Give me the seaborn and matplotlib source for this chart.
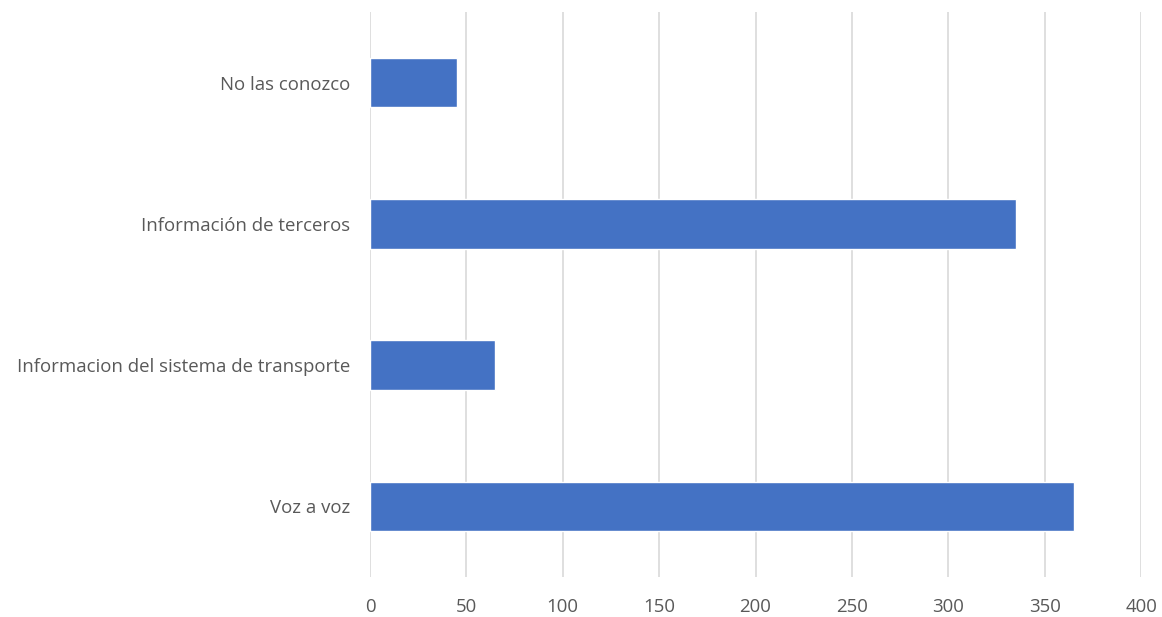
import matplotlib
matplotlib.use("Agg")
import matplotlib.pyplot as plt
import seaborn as sns
import pandas as pd

categories = [
    "No las conozco",
    "Información de terceros",
    "Informacion del sistema de transporte",
    "Voz a voz",
]
values = [45, 335, 65, 365]
x_ticks = [0, 50, 100, 150, 200, 250, 300, 350, 400]

sns.set_theme(style="white")
plt.rcParams["font.family"] = ["Open Sans", "DejaVu Sans"]

df = pd.DataFrame({"categoria": categories, "valor": values})

fig = plt.figure(figsize=(11.62, 6.17), dpi=100)
ax = fig.add_axes([0.3184, 0.0648, 0.9820 - 0.3184, 0.9806 - 0.0648])

sns.barplot(data=df, y="categoria", x="valor", order=categories,
            color="#4472C4", saturation=1, width=0.35, ax=ax)

ax.set_xlim(0, 400)
ax.set_xticks(x_ticks)
ax.set_xticklabels([str(t) for t in x_ticks])
ax.set_ylim(3.5, -0.5)
ax.set_xlabel("")
ax.set_ylabel("")
ax.grid(axis="x", color="#d9d9d9", linewidth=1.2)
ax.grid(axis="y", visible=False)
ax.set_axisbelow(True)
for s in ax.spines.values():
    s.set_visible(False)
ax.tick_params(axis="both", length=0, labelsize=13.4, colors="#595959")
ax.tick_params(axis="y", pad=14)
ax.tick_params(axis="x", pad=15)

fig.savefig("out.png", dpi=100)
